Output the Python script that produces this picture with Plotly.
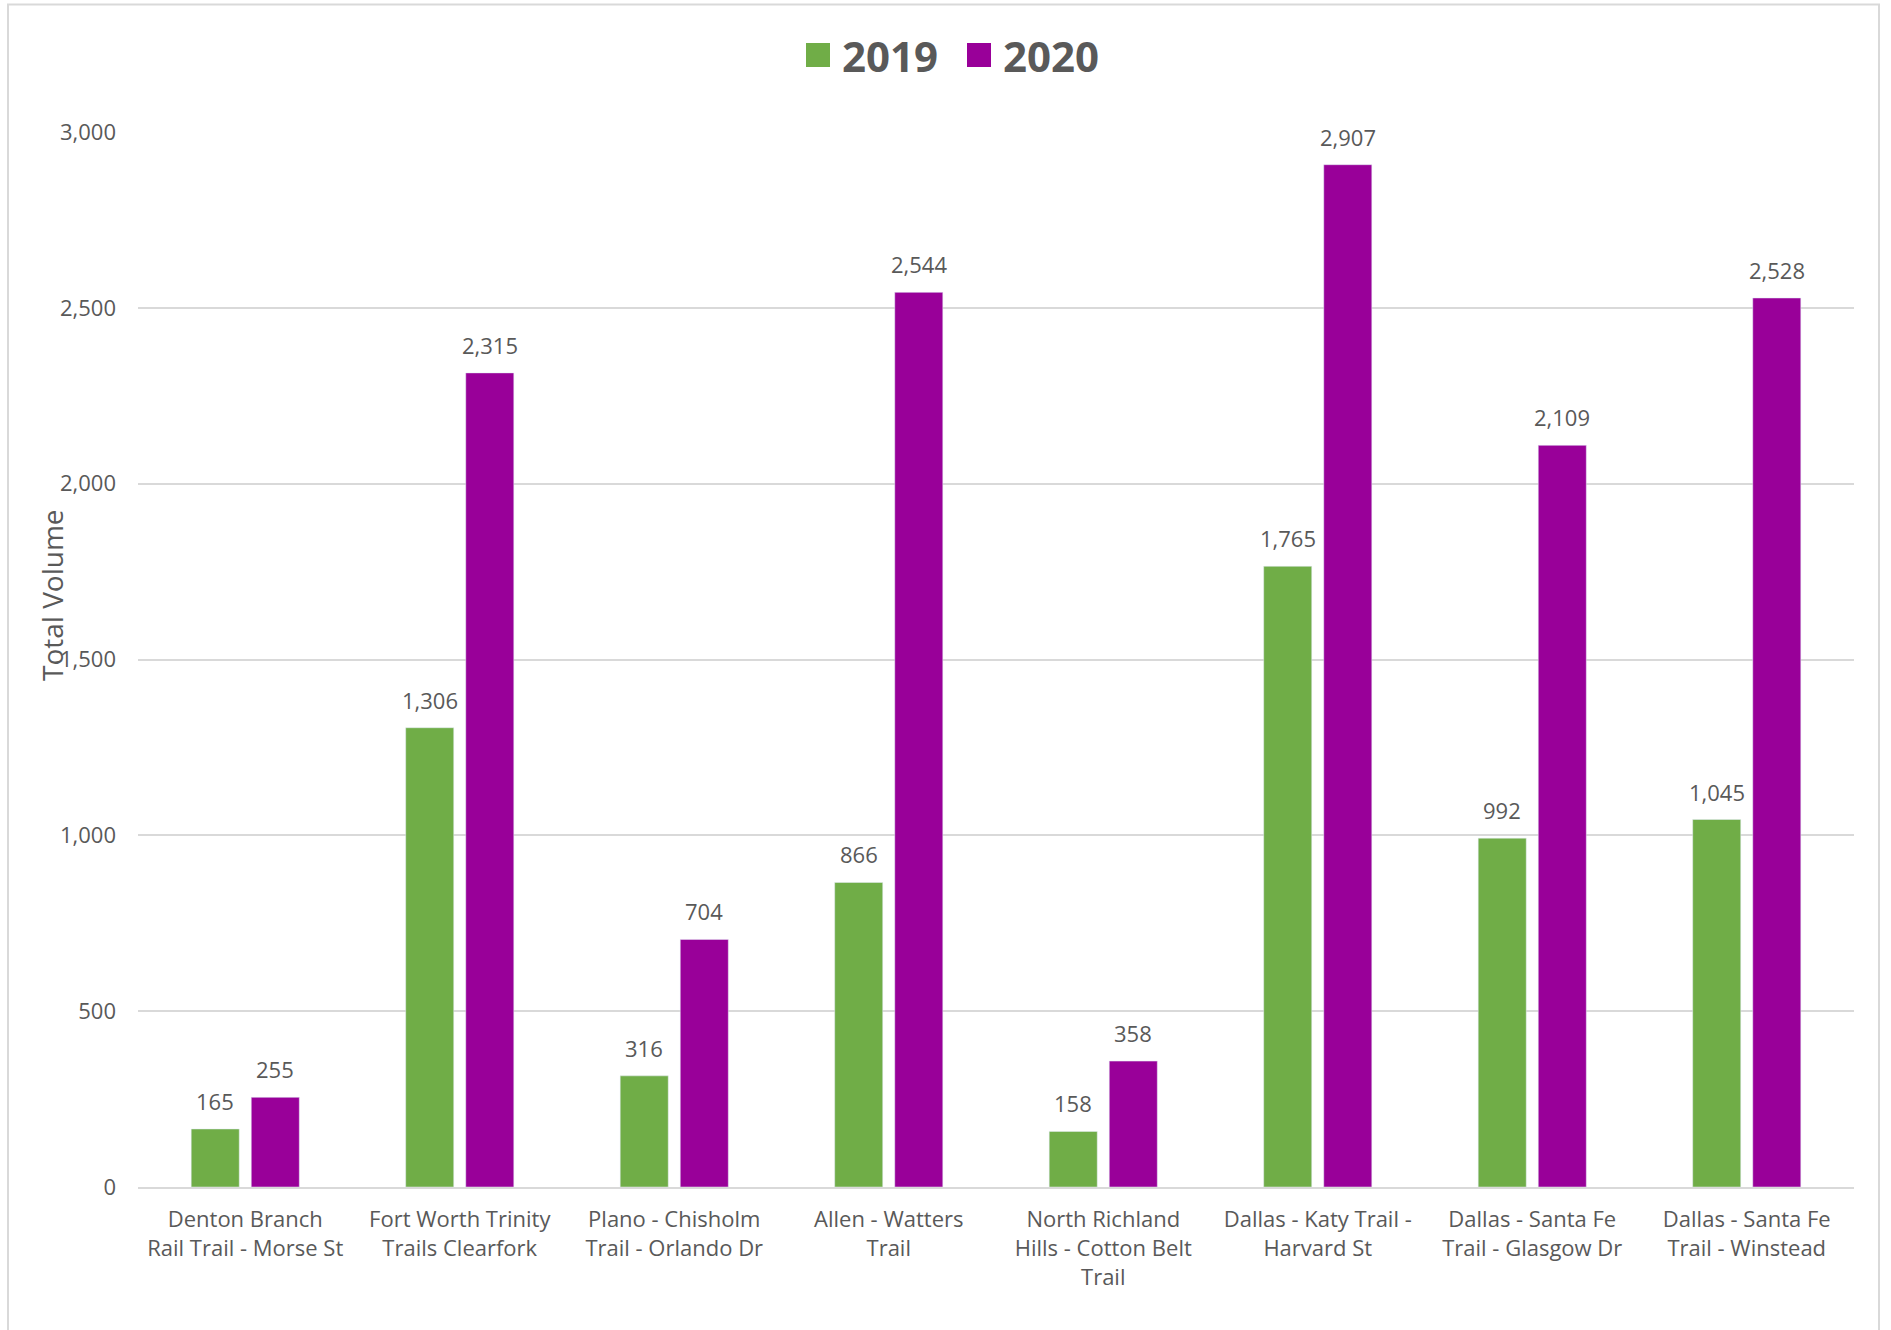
import plotly.graph_objects as go

categories = [
    "Denton Branch Rail Trail - Morse St",
    "Fort Worth Trinity Trails Clearfork",
    "Plano - Chisholm Trail - Orlando Dr",
    "Allen - Watters Trail",
    "North Richland Hills - Cotton Belt Trail",
    "Dallas - Katy Trail - Harvard St",
    "Dallas - Santa Fe Trail - Glasgow Dr",
    "Dallas - Santa Fe Trail - Winstead",
]
tick_labels = [
    "Denton Branch<br>Rail Trail - Morse St",
    "Fort Worth Trinity<br>Trails Clearfork",
    "Plano - Chisholm<br>Trail - Orlando Dr",
    "Allen - Watters<br>Trail",
    "North Richland<br>Hills - Cotton Belt<br>Trail",
    "Dallas - Katy Trail -<br>Harvard St",
    "Dallas - Santa Fe<br>Trail - Glasgow Dr",
    "Dallas - Santa Fe<br>Trail - Winstead",
]
series_names = ["2019", "2020"]
values_2019 = [165, 1306, 316, 866, 158, 1765, 992, 1045]
values_2020 = [255, 2315, 704, 2544, 358, 2907, 2109, 2528]
y_ticks = [0, 500, 1000, 1500, 2000, 2500, 3000]

FONT = "Open Sans"
TXT = "#595959"
GREEN = "#70AD47"
PURPLE = "#990099"
GRID = "#D9D9D9"

W, H = 1891, 1330
L, R, T, B = 138, 37, 132, 143
pw, ph = W - L - R, H - T - B


def px(x):
    return (x - L) / pw


def py(y):
    return (H - B - y) / ph


fig = go.Figure()
for name, vals, col in [(series_names[0], values_2019, GREEN),
                        (series_names[1], values_2020, PURPLE)]:
    fig.add_trace(go.Bar(name=name, x=categories, y=vals, marker_color=col,
                         showlegend=False))

annotations = []
# value labels above each bar
for vals, shift in [(values_2019, -30), (values_2020, 30)]:
    for cat, v in zip(categories, vals):
        annotations.append(dict(
            x=cat, y=v, xref="x", yref="y", text=f"{v:,}", showarrow=False,
            xanchor="center", yanchor="bottom", xshift=shift, yshift=11,
            font=dict(family=FONT, size=22, color=TXT),
        ))

# axis title
annotations.append(dict(
    text="Total Volume", textangle=-90, showarrow=False,
    xref="paper", yref="paper", x=px(52), y=py(595),
    xanchor="center", yanchor="middle",
    font=dict(family=FONT, size=28, color=TXT),
))

# frame + legend (manual, to match the large square keys)
shapes = [dict(
    type="rect", xref="paper", yref="paper",
    x0=px(8), x1=px(1879), y0=-0.3, y1=py(4.5),
    line=dict(color=GRID, width=2), fillcolor="rgba(0,0,0,0)", layer="below",
)]
legend_items = [(series_names[0], GREEN, 806, 841), (series_names[1], PURPLE, 967, 1002)]
for name, col, sx, tx in legend_items:
    shapes.append(dict(type="rect", xref="paper", yref="paper",
                       x0=px(sx), x1=px(sx + 24), y0=py(67), y1=py(43),
                       line=dict(width=0), fillcolor=col))
    annotations.append(dict(
        text=f"<b>{name}</b>", showarrow=False, xref="paper", yref="paper",
        x=px(tx), y=py(55), xanchor="left", yanchor="middle", borderpad=0,
        font=dict(family=FONT, size=42, color=TXT),
    ))

fig.update_layout(
    width=W, height=H,
    margin=dict(l=L, r=R, t=T, b=B, autoexpand=False),
    paper_bgcolor="white", plot_bgcolor="white",
    font=dict(family=FONT, color=TXT),
    barmode="group", bargap=0.44, bargroupgap=0.2,
    showlegend=False,
    xaxis=dict(
        tickmode="array", tickvals=categories, ticktext=tick_labels,
        tickfont=dict(family=FONT, size=22, color=TXT),
        showline=True, linecolor=GRID, linewidth=2,
        showgrid=False, ticks="", ticklabelstandoff=12,
    ),
    yaxis=dict(
        range=[0, 3000], tickvals=y_ticks, tickformat=",",
        tickfont=dict(family=FONT, size=22, color=TXT),
        showgrid=True, gridcolor=GRID, gridwidth=1.5,
        zeroline=False, showline=False, ticks="", ticklabelstandoff=21,
    ),
    shapes=shapes,
    annotations=annotations,
)

fig.write_html("out.html", config={"displayModeBar": False},
               post_script="document.body.style.margin='0';")
